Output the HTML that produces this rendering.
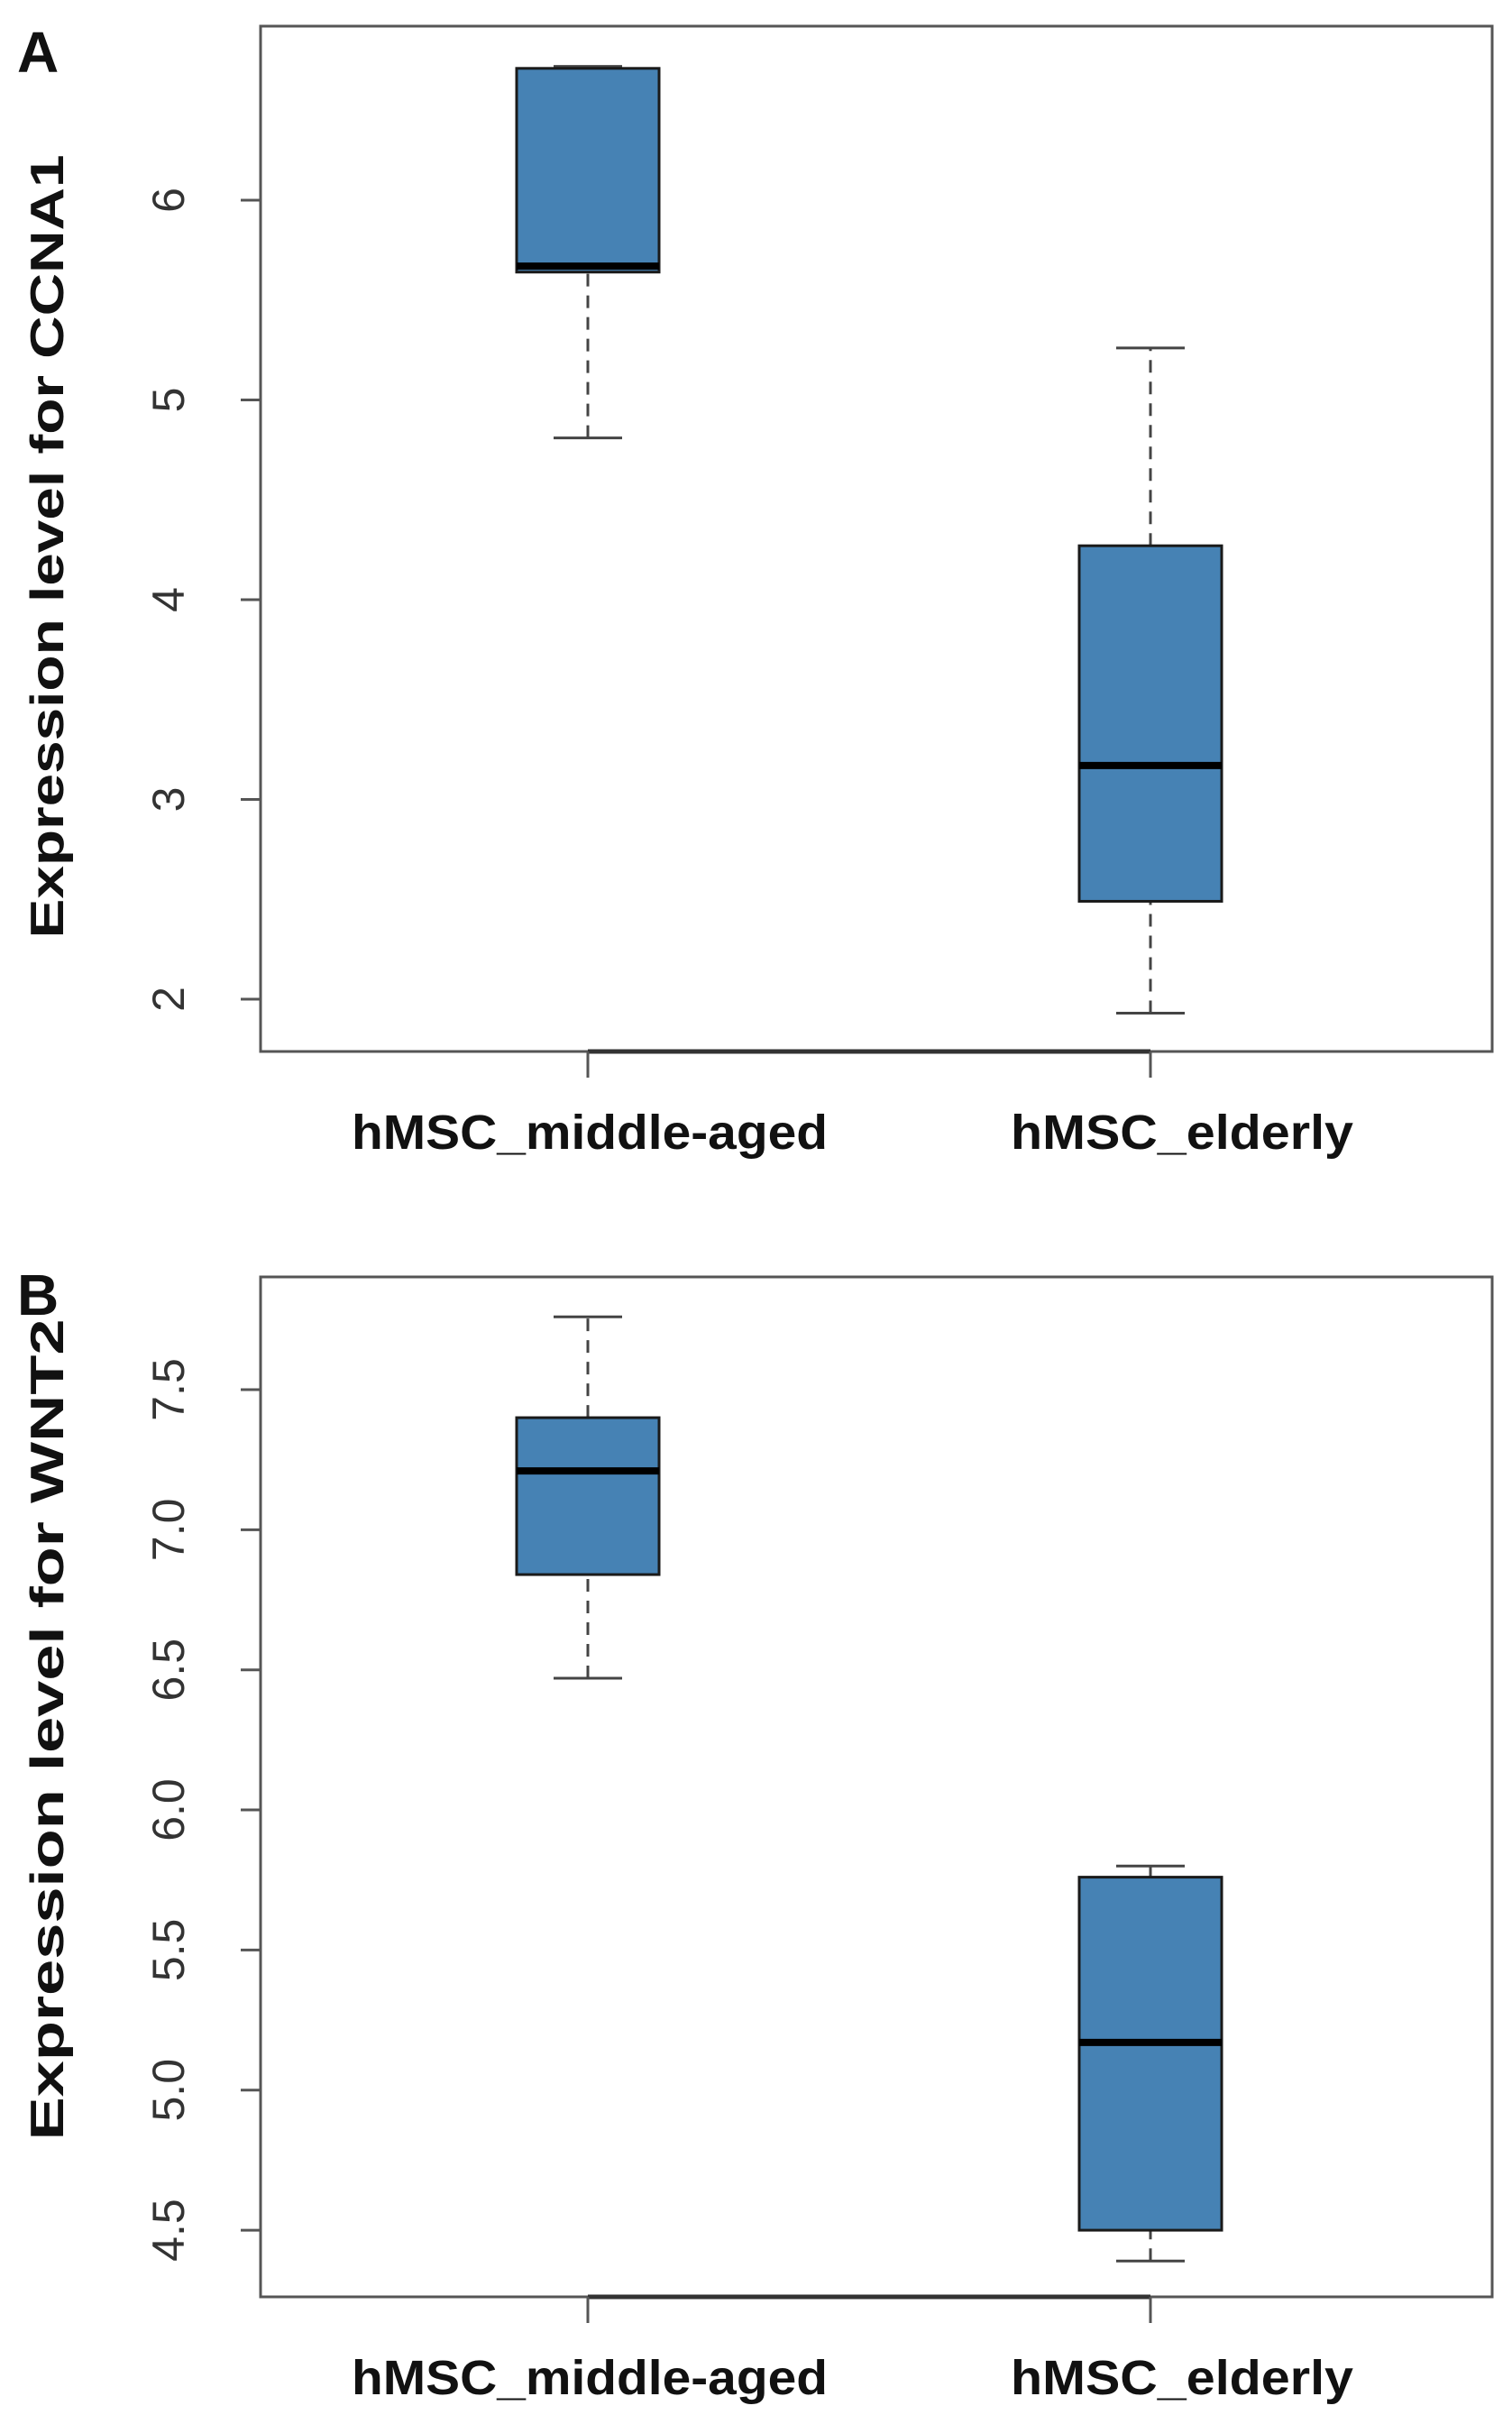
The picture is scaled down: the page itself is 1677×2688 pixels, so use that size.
<!DOCTYPE html>
<html><head><meta charset="utf-8"><style>
html,body{margin:0;padding:0;background:#fff}
svg{display:block}
text{font-family:"Liberation Sans",Arial,sans-serif}
</style></head><body>
<svg id="chart" width="1677" height="2688" viewBox="0 0 1677 2688" xmlns="http://www.w3.org/2000/svg"></svg>
<script>
const categories = ["hMSC_middle-aged", "hMSC_elderly"];
// panel A: CCNA1 [low whisker, q1, median, q3, high whisker]
const ccna1Stats = [[4.81, 5.64, 5.67, 6.66, 6.67], [1.93, 2.49, 3.17, 4.27, 5.26]];
const ccna1Ticks = [2, 3, 4, 5, 6];
const ccna1TickLabels = ["2", "3", "4", "5", "6"];
// panel B: WNT2
const wnt2Stats = [[6.47, 6.84, 7.21, 7.40, 7.76], [4.39, 4.50, 5.17, 5.76, 5.80]];
const wnt2Ticks = [4.5, 5.0, 5.5, 6.0, 6.5, 7.0, 7.5];
const wnt2TickLabels = ["4.5", "5.0", "5.5", "6.0", "6.5", "7.0", "7.5"];

const NS = "http://www.w3.org/2000/svg";
const svg = document.getElementById("chart");
function mk(tag, attrs, parent) {
  const e = document.createElementNS(NS, tag);
  for (const k in attrs) e.setAttribute(k, attrs[k]);
  (parent || svg).appendChild(e);
  return e;
}

function panel(cfg) {
  const g = mk("g", {});
  
  
  const L = 289, R = 1655, T = cfg.top, B = cfg.bottom;
  const y = v => cfg.y0 + (cfg.v0 - v) * cfg.unit;
  const x = i => [652, 1276][i];

  const letter = mk("text", {x: 19, y: cfg.letterY, "font-size": 64, "font-weight": "bold", fill: "#111"}, g);
  letter.textContent = cfg.letter;
  
  

  const frame = mk("rect", {x: L, y: T, width: R - L, height: B - T, fill: "none", stroke: "#555", "stroke-width": 3}, g);
  
  

  cfg.ticks.forEach((t, i) => {
    const ty = y(t);
    const tk = mk("line", {x1: L - 22, x2: L, y1: ty, y2: ty, stroke: "#555", "stroke-width": 3}, g);
    
    
    const lb = mk("text", {x: 0, y: 0, "font-size": 50, fill: "#333", "text-anchor": "middle",
      transform: `translate(204,${ty}) rotate(-90)`}, g);
    lb.textContent = cfg.tickLabels[i];
    
    
  });

  const yt = mk("text", {x: 0, y: 0, "font-size": 52, "font-weight": "bold", fill: "#111", "text-anchor": "middle",
    textLength: cfg.titleLen, lengthAdjust: "spacingAndGlyphs",
    transform: `translate(70,${cfg.titleY}) rotate(-90)`}, g);
  yt.textContent = cfg.title;
  
  

  const xa = mk("line", {x1: x(0), x2: x(1), y1: B, y2: B, stroke: "#333", "stroke-width": 5}, g);
  
  
  categories.forEach((c, i) => {
    const tk = mk("line", {x1: x(i), x2: x(i), y1: B, y2: B + 29, stroke: "#555", "stroke-width": 3}, g);
    
    
    const lb = mk("text", {x: i === 0 ? 654 : 1311, y: B + 108, "font-size": 54, "font-weight": "bold", fill: "#111", "text-anchor": "middle",
      textLength: i === 0 ? 528 : 380, lengthAdjust: "spacingAndGlyphs"}, g);
    lb.textContent = c;
    
    
  });

  cfg.stats.forEach((s, i) => {
    const cx = x(i), hw = 79, cw = 38;
    const bg = mk("g", {}, g);
    
    
    mk("line", {x1: cx, x2: cx, y1: y(s[0]), y2: y(s[1]), stroke: "#444", "stroke-width": 3, "stroke-dasharray": "14 10"}, bg);
    mk("line", {x1: cx, x2: cx, y1: y(s[3]), y2: y(s[4]), stroke: "#444", "stroke-width": 3, "stroke-dasharray": "14 10"}, bg);
    mk("line", {x1: cx - cw, x2: cx + cw, y1: y(s[0]), y2: y(s[0]), stroke: "#444", "stroke-width": 3}, bg);
    mk("line", {x1: cx - cw, x2: cx + cw, y1: y(s[4]), y2: y(s[4]), stroke: "#444", "stroke-width": 3}, bg);
    mk("rect", {x: cx - hw, y: y(s[3]), width: 2 * hw, height: y(s[1]) - y(s[3]), fill: "#4682B4", stroke: "#1a1a1a", "stroke-width": 3}, bg);
    mk("line", {x1: cx - hw, x2: cx + hw, y1: y(s[2]), y2: y(s[2]), stroke: "#000", "stroke-width": 8}, bg);
  });
}

panel({name: "panel-a-ccna1", letter: "A", letterY: 80, top: 29, bottom: 1166, y0: 222, v0: 6, unit: 221.5,
  stats: ccna1Stats, ticks: ccna1Ticks, tickLabels: ccna1TickLabels,
  title: "Expression level for CCNA1", titleY: 606, titleLen: 869});
panel({name: "panel-b-wnt2", letter: "B", letterY: 1458, top: 1416, bottom: 2547, y0: 1541, v0: 7.5, unit: 310.7,
  stats: wnt2Stats, ticks: wnt2Ticks, tickLabels: wnt2TickLabels,
  title: "Expression level for WNT2", titleY: 1918, titleLen: 911});
</script>
</body></html>
